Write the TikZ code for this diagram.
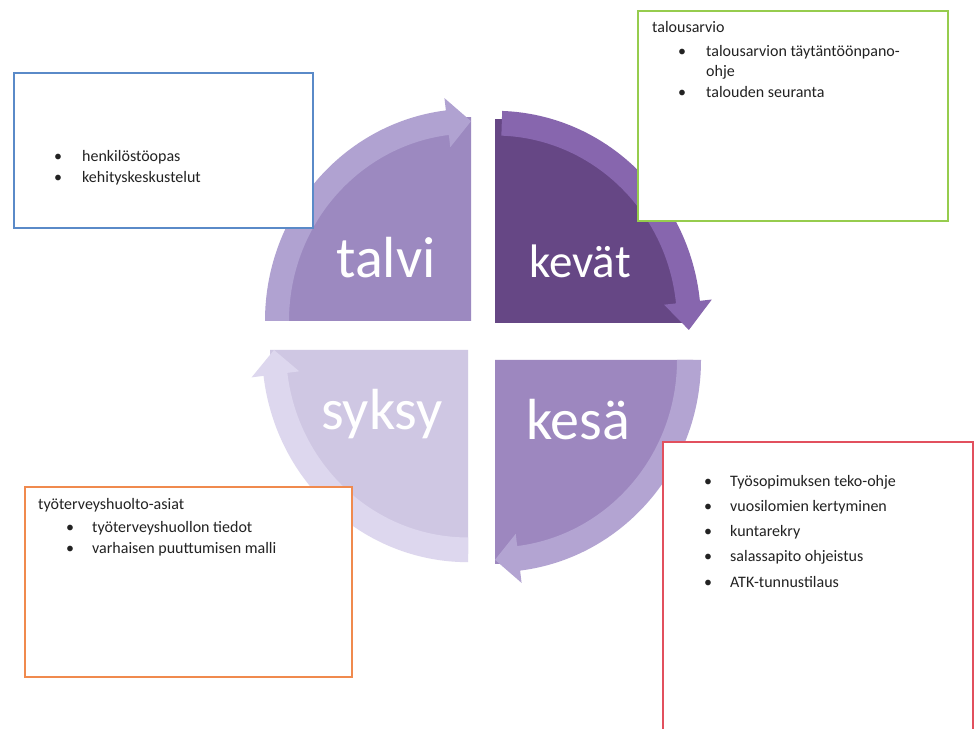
\documentclass[tikz,border=0pt]{standalone}
\usepackage{fontspec}
\setmainfont{Carlito}
\definecolor{talviF}{HTML}{9C89C0}
\definecolor{talviB}{HTML}{B0A2D1}
\definecolor{kevatF}{HTML}{664785}
\definecolor{kevatB}{HTML}{8766AE}
\definecolor{kesaF}{HTML}{9D87BF}
\definecolor{kesaB}{HTML}{B3A4D2}
\definecolor{syksyF}{HTML}{CFC7E3}
\definecolor{syksyB}{HTML}{DDD7EE}
\definecolor{boxblue}{HTML}{5A8AC8}
\definecolor{boxgreen}{HTML}{96CC4E}
\definecolor{boxred}{HTML}{E2505E}
\definecolor{boxorange}{HTML}{F08A4E}
\definecolor{txt}{HTML}{222222}
\newcommand\SegQuad[5]{% color, cx, cy, start, end
  \begin{scope}[shift={(#2,#3)},yscale=1.03]
    \fill[#1] (0,0) -- (#4:198) arc[start angle=#4,end angle=#5,radius=198] -- cycle;
  \end{scope}}
\newcommand\SegArrow[6]{% color, cx, cy, a0, ah, a1
  \begin{scope}[shift={(#2,#3)},yscale=1.03]
    \fill[#1] (#4:206) arc[start angle=#4,end angle=#5,radius=206] -- (#5:218) -- (#6:194) -- (#5:170) -- (#5:182) arc[start angle=#5,end angle=#4,radius=182] -- cycle;
  \end{scope}}
\tikzset{
  season/.style={text=white,font=\fontsize{56}{56}\selectfont,anchor=base,inner sep=0pt},
  infobox/.style={draw=#1,line width=1.8pt,fill=white},
  itemtext/.style={text=txt,font=\fontsize{16}{16}\selectfont,anchor=base west,inner sep=0pt},
  bul/.style={text=txt,font=\fontsize{16}{16}\selectfont,anchor=base,inner sep=0pt}
}
\begin{document}
\begin{tikzpicture}[x=1pt,y=1pt]
\useasboundingbox (0,0) rectangle (976,728);
\clip (0,0) rectangle (976,728);
\fill[white] (0,0) rectangle (976,728);
% quadrants
\SegQuad{talviF}{471}{407}{90}{180}
\SegQuad{kevatF}{495}{405}{0}{90}
\SegQuad{kesaF}{495}{368}{-90}{0}
\SegQuad{syksyF}{468}{378}{180}{270}
% arrows
\SegArrow{talviB}{471}{407}{180}{97}{90}
\SegArrow{kevatB}{495}{405}{88}{6}{-2}
\SegArrow{kesaB}{495}{368}{0}{-83}{-90}
\SegArrow{syksyB}{468}{378}{-90}{-173}{-180}
% season labels
\node[season,font=\fontsize{58}{58}\selectfont] (talvi) at (386,450) {talvi};
\node[season,font=\fontsize{47}{47}\selectfont] (kevat) at (580,450) {kevät};
\node[season,font=\fontsize{58}{58}\selectfont] (syksy) at (382,298) {syksy};
\node[season,font=\fontsize{58}{58}\selectfont] (kesa) at (578,288) {kesä};
% boxes
\draw[infobox=boxblue] (14,655) rectangle (313,500);
\draw[infobox=boxgreen] (638,717) rectangle (948,507);
\draw[infobox=boxred] (663,286) rectangle (973,-10);
\draw[infobox=boxorange] (25,241) rectangle (352,51);
% blue text
\node[bul] (b1) at (58,566) {•};
\node[itemtext] (bt1) at (82,566) {henkilöstöopas};
\node[bul] (b2) at (58,545) {•};
\node[itemtext] (bt2) at (82,545) {kehityskeskustelut};
% green text
\node[itemtext] (gh) at (652,695) {talousarvio};
\node[bul] (g1) at (682,671) {•};
\node[itemtext] (gt1) at (706,671) {talousarvion täytäntöönpano-};
\node[itemtext] (gt1b) at (706,651) {ohje};
\node[bul] (g2) at (682,630) {•};
\node[itemtext] (gt2) at (706,630) {talouden seuranta};
% orange text
\node[itemtext] (oh) at (38,218) {työterveyshuolto-asiat};
\node[bul] (o1) at (70,195) {•};
\node[itemtext] (ot1) at (92,195) {työterveyshuollon tiedot};
\node[bul] (o2) at (70,175) {•};
\node[itemtext] (ot2) at (92,175) {varhaisen puuttumisen malli};
% red text
\node[bul] (r1) at (708,241) {•};
\node[itemtext] (rt1) at (730,241) {Työsopimuksen teko-ohje};
\node[bul] (r2) at (708,216) {•};
\node[itemtext] (rt2) at (730,216) {vuosilomien kertyminen};
\node[bul] (r3) at (708,191) {•};
\node[itemtext] (rt3) at (730,191) {kuntarekry};
\node[bul] (r4) at (708,166) {•};
\node[itemtext] (rt4) at (730,166) {salassapito ohjeistus};
\node[bul] (r5) at (708,141) {•};
\node[itemtext] (rt5) at (730,141) {ATK-tunnustilaus};
\end{tikzpicture}
\end{document}
